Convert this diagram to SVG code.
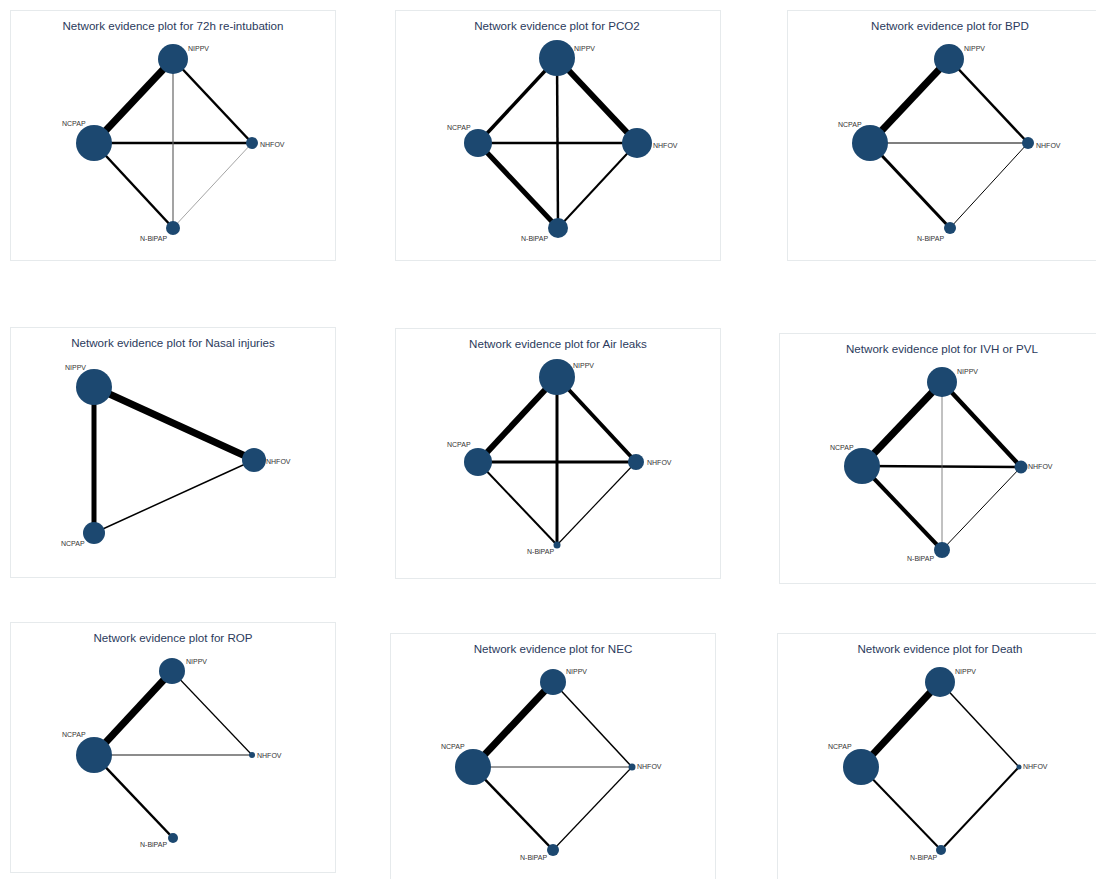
<svg xmlns="http://www.w3.org/2000/svg" width="1096" height="879" viewBox="0 0 1096 879">
<style>
.bg{fill:#ffffff}
.frame{fill:#ffffff;stroke:#e6eaec;stroke-width:1}
.title{font-family:"Liberation Sans",Arial,sans-serif;font-size:11.6px;fill:#2b3a5c;text-anchor:middle}
.lbl{font-family:"Liberation Sans",Arial,sans-serif;font-size:7px;fill:#333333}
.nd{fill:#1c4870}
.e{stroke:#000000;stroke-linecap:butt;fill:none}
.g{stroke:#666666;stroke-linecap:butt;fill:none}
</style>
<rect class="bg" x="0" y="0" width="1096" height="879"/>

<!-- Panel 1 -->
<g id="panel1">
<rect class="frame" x="10.5" y="10.5" width="325" height="250"/>
<text class="title" x="173" y="30">Network evidence plot for 72h re-intubation</text>
<g id="p1-connectors">
<line class="e" x1="94" y1="143" x2="173" y2="59" stroke-width="7"/>
<line class="e" x1="173" y1="59" x2="252" y2="143" stroke-width="2.5"/>
<line class="e" x1="94" y1="143" x2="252" y2="143" stroke-width="2.5"/>
<line class="e" x1="94" y1="143" x2="173" y2="228" stroke-width="2.5"/>
<line class="g" x1="173" y1="59" x2="173" y2="228" stroke-width="1.2"/>
<line class="g" x1="252" y1="143" x2="173" y2="228" stroke-width="0.6"/>
</g>
<g id="p1-NIPPV"><circle class="nd" cx="173" cy="59" r="15"/><text class="lbl" x="188" y="51">NIPPV</text></g>
<g id="p1-NCPAP"><circle class="nd" cx="94" cy="143" r="18"/><text class="lbl" x="62" y="126">NCPAP</text></g>
<g id="p1-NHFOV"><circle class="nd" cx="252" cy="143" r="6"/><text class="lbl" x="260" y="147">NHFOV</text></g>
<g id="p1-NBiPAP"><circle class="nd" cx="173" cy="228" r="7"/><text class="lbl" x="140" y="241">N-BiPAP</text></g>
</g>

<!-- Panel 2 -->
<g id="panel2">
<rect class="frame" x="395.5" y="10.5" width="325" height="250"/>
<text class="title" x="557" y="30">Network evidence plot for PCO2</text>
<g id="p2-connectors">
<line class="e" x1="478" y1="143" x2="557" y2="58" stroke-width="3.5"/>
<line class="e" x1="557" y1="58" x2="637" y2="143" stroke-width="6"/>
<line class="e" x1="478" y1="143" x2="637" y2="143" stroke-width="2.5"/>
<line class="e" x1="478" y1="143" x2="558" y2="228" stroke-width="5"/>
<line class="e" x1="557" y1="58" x2="558" y2="228" stroke-width="2.5"/>
<line class="e" x1="637" y1="143" x2="558" y2="228" stroke-width="2"/>
</g>
<g id="p2-NIPPV"><circle class="nd" cx="557" cy="58" r="18"/><text class="lbl" x="574" y="51">NIPPV</text></g>
<g id="p2-NCPAP"><circle class="nd" cx="478" cy="143" r="14"/><text class="lbl" x="447" y="130">NCPAP</text></g>
<g id="p2-NHFOV"><circle class="nd" cx="637" cy="143" r="15"/><text class="lbl" x="653" y="148">NHFOV</text></g>
<g id="p2-NBiPAP"><circle class="nd" cx="558" cy="228" r="10"/><text class="lbl" x="521" y="241">N-BiPAP</text></g>
</g>

<!-- Panel 3 -->
<g id="panel3">
<rect class="frame" x="787.5" y="10.5" width="312" height="250"/>
<text class="title" x="950" y="30">Network evidence plot for BPD</text>
<g id="p3-connectors">
<line class="e" x1="870" y1="143" x2="949" y2="59" stroke-width="7"/>
<line class="e" x1="949" y1="59" x2="1028" y2="143" stroke-width="2.5"/>
<line class="e" x1="870" y1="143" x2="1028" y2="143" stroke-width="1.2"/>
<line class="e" x1="870" y1="143" x2="950" y2="228" stroke-width="3"/>
<line class="e" x1="1028" y1="143" x2="950" y2="228" stroke-width="1"/>
</g>
<g id="p3-NIPPV"><circle class="nd" cx="949" cy="59" r="15"/><text class="lbl" x="964" y="51">NIPPV</text></g>
<g id="p3-NCPAP"><circle class="nd" cx="870" cy="143" r="18"/><text class="lbl" x="838" y="127">NCPAP</text></g>
<g id="p3-NHFOV"><circle class="nd" cx="1028" cy="143" r="6"/><text class="lbl" x="1036" y="148">NHFOV</text></g>
<g id="p3-NBiPAP"><circle class="nd" cx="950" cy="228" r="6"/><text class="lbl" x="917" y="241">N-BiPAP</text></g>
</g>

<!-- Panel 4 -->
<g id="panel4">
<rect class="frame" x="10.5" y="327.5" width="325" height="250"/>
<text class="title" x="173" y="347">Network evidence plot for Nasal injuries</text>
<g id="p4-connectors">
<line class="e" x1="94" y1="387" x2="254" y2="460" stroke-width="7"/>
<line class="e" x1="94" y1="387" x2="94" y2="533" stroke-width="5"/>
<line class="e" x1="94" y1="533" x2="254" y2="460" stroke-width="1.5"/>
</g>
<g id="p4-NIPPV"><circle class="nd" cx="94" cy="387" r="18"/><text class="lbl" x="65" y="370">NIPPV</text></g>
<g id="p4-NHFOV"><circle class="nd" cx="254" cy="460" r="12"/><text class="lbl" x="266" y="464">NHFOV</text></g>
<g id="p4-NCPAP"><circle class="nd" cx="94" cy="533" r="11"/><text class="lbl" x="61" y="546">NCPAP</text></g>
</g>

<!-- Panel 5 -->
<g id="panel5">
<rect class="frame" x="395.5" y="328.5" width="325" height="250"/>
<text class="title" x="558" y="348">Network evidence plot for Air leaks</text>
<g id="p5-connectors">
<line class="e" x1="478" y1="462" x2="557" y2="377" stroke-width="6"/>
<line class="e" x1="557" y1="377" x2="636" y2="462" stroke-width="4"/>
<line class="e" x1="478" y1="462" x2="636" y2="462" stroke-width="3"/>
<line class="e" x1="557" y1="377" x2="557" y2="545" stroke-width="3"/>
<line class="e" x1="478" y1="462" x2="557" y2="545" stroke-width="2"/>
<line class="e" x1="636" y1="462" x2="557" y2="545" stroke-width="1.2"/>
</g>
<g id="p5-NIPPV"><circle class="nd" cx="557" cy="377" r="18"/><text class="lbl" x="573" y="368">NIPPV</text></g>
<g id="p5-NCPAP"><circle class="nd" cx="478" cy="462" r="14"/><text class="lbl" x="447" y="447">NCPAP</text></g>
<g id="p5-NHFOV"><circle class="nd" cx="636" cy="462" r="8"/><text class="lbl" x="647" y="465">NHFOV</text></g>
<g id="p5-NBiPAP"><circle class="nd" cx="557" cy="545" r="3.5"/><text class="lbl" x="527" y="554">N-BiPAP</text></g>
</g>

<!-- Panel 6 -->
<g id="panel6">
<rect class="frame" x="779.5" y="333.5" width="320" height="250"/>
<text class="title" x="942" y="353">Network evidence plot for IVH or PVL</text>
<g id="p6-connectors">
<line class="e" x1="862" y1="466" x2="942" y2="382" stroke-width="7"/>
<line class="e" x1="942" y1="382" x2="1021" y2="467" stroke-width="4.5"/>
<line class="e" x1="862" y1="466" x2="1021" y2="467" stroke-width="2.5"/>
<line class="e" x1="862" y1="466" x2="942" y2="550" stroke-width="4"/>
<line class="g" x1="942" y1="382" x2="942" y2="550" stroke-width="0.8"/>
<line class="e" x1="1021" y1="467" x2="942" y2="550" stroke-width="1"/>
</g>
<g id="p6-NIPPV"><circle class="nd" cx="942" cy="382" r="15"/><text class="lbl" x="957" y="374">NIPPV</text></g>
<g id="p6-NCPAP"><circle class="nd" cx="862" cy="466" r="18"/><text class="lbl" x="830" y="450">NCPAP</text></g>
<g id="p6-NHFOV"><circle class="nd" cx="1021" cy="467" r="6.5"/><text class="lbl" x="1028" y="469">NHFOV</text></g>
<g id="p6-NBiPAP"><circle class="nd" cx="942" cy="550" r="8"/><text class="lbl" x="907" y="561">N-BiPAP</text></g>
</g>

<!-- Panel 7 -->
<g id="panel7">
<rect class="frame" x="10.5" y="622.5" width="325" height="250"/>
<text class="title" x="173" y="642">Network evidence plot for ROP</text>
<g id="p7-connectors">
<line class="e" x1="94" y1="755" x2="172" y2="671" stroke-width="7"/>
<line class="e" x1="172" y1="671" x2="252" y2="755" stroke-width="1.2"/>
<line class="g" x1="94" y1="755" x2="252" y2="755" stroke-width="1.5"/>
<line class="e" x1="94" y1="755" x2="173" y2="838" stroke-width="2.5"/>
</g>
<g id="p7-NIPPV"><circle class="nd" cx="172" cy="671" r="13"/><text class="lbl" x="186" y="664">NIPPV</text></g>
<g id="p7-NCPAP"><circle class="nd" cx="94" cy="755" r="18"/><text class="lbl" x="62" y="737">NCPAP</text></g>
<g id="p7-NHFOV"><circle class="nd" cx="252" cy="755" r="3"/><text class="lbl" x="257" y="758">NHFOV</text></g>
<g id="p7-NBiPAP"><circle class="nd" cx="173" cy="838" r="5"/><text class="lbl" x="140" y="847">N-BiPAP</text></g>
</g>

<!-- Panel 8 -->
<g id="panel8">
<rect class="frame" x="390.5" y="633.5" width="325" height="260"/>
<text class="title" x="553" y="653">Network evidence plot for NEC</text>
<g id="p8-connectors">
<line class="e" x1="473" y1="767" x2="553" y2="682" stroke-width="7"/>
<line class="e" x1="553" y1="682" x2="632" y2="767" stroke-width="1.5"/>
<line class="e" x1="473" y1="767" x2="632" y2="767" stroke-width="0.8"/>
<line class="e" x1="473" y1="767" x2="553" y2="850" stroke-width="2.5"/>
<line class="e" x1="632" y1="767" x2="553" y2="850" stroke-width="1.2"/>
</g>
<g id="p8-NIPPV"><circle class="nd" cx="553" cy="682" r="13"/><text class="lbl" x="566" y="674">NIPPV</text></g>
<g id="p8-NCPAP"><circle class="nd" cx="473" cy="767" r="18"/><text class="lbl" x="441" y="749">NCPAP</text></g>
<g id="p8-NHFOV"><circle class="nd" cx="632" cy="767" r="3.5"/><text class="lbl" x="637" y="769">NHFOV</text></g>
<g id="p8-NBiPAP"><circle class="nd" cx="553" cy="850" r="6"/><text class="lbl" x="520" y="860">N-BiPAP</text></g>
</g>

<!-- Panel 9 -->
<g id="panel9">
<rect class="frame" x="777.5" y="633.5" width="322" height="260"/>
<text class="title" x="940" y="653">Network evidence plot for Death</text>
<g id="p9-connectors">
<line class="e" x1="861" y1="767" x2="940" y2="682" stroke-width="7"/>
<line class="e" x1="940" y1="682" x2="1019" y2="767" stroke-width="1.5"/>
<line class="e" x1="861" y1="767" x2="941" y2="850" stroke-width="2"/>
<line class="e" x1="1019" y1="767" x2="941" y2="850" stroke-width="2"/>
</g>
<g id="p9-NIPPV"><circle class="nd" cx="940" cy="682" r="15"/><text class="lbl" x="955" y="674">NIPPV</text></g>
<g id="p9-NCPAP"><circle class="nd" cx="861" cy="767" r="18"/><text class="lbl" x="828" y="749">NCPAP</text></g>
<g id="p9-NHFOV"><circle class="nd" cx="1019" cy="767" r="2.5"/><text class="lbl" x="1023" y="769">NHFOV</text></g>
<g id="p9-NBiPAP"><circle class="nd" cx="941" cy="850" r="5"/><text class="lbl" x="910" y="860">N-BiPAP</text></g>
</g>
</svg>
